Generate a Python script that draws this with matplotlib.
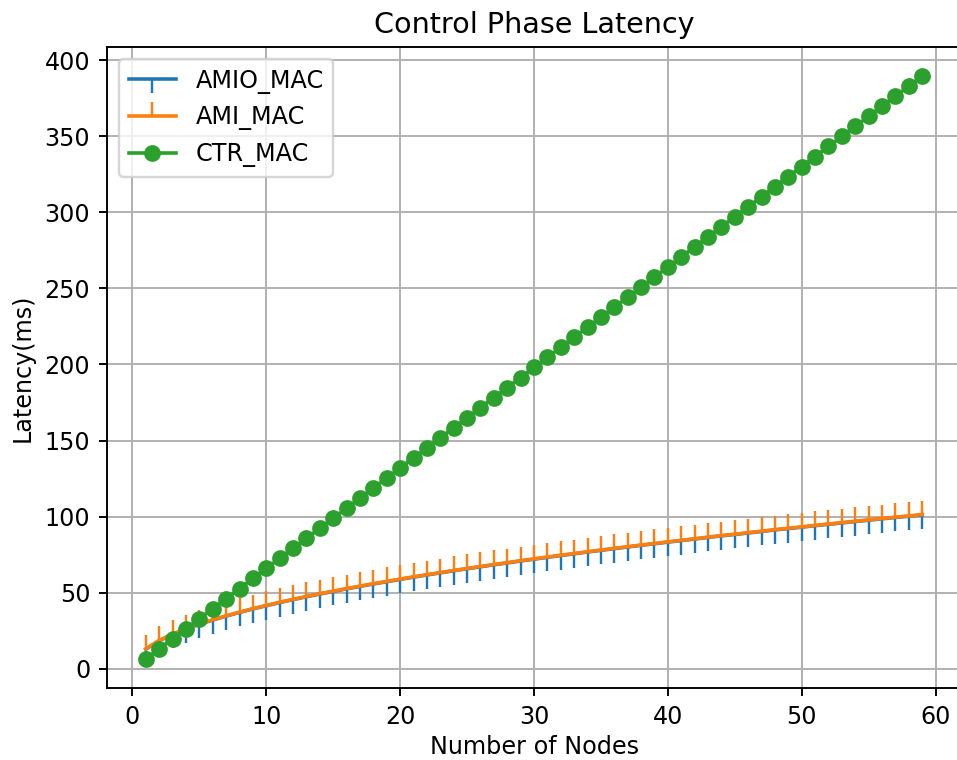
import matplotlib
matplotlib.use("Agg")
import matplotlib.pyplot as plt

nodes = list(range(1, 60))

ctr_mac = [6.6, 13.2, 19.8, 26.4, 33.0, 39.6, 46.2, 52.8, 59.4, 66.0,
           72.6, 79.2, 85.8, 92.4, 99.0, 105.6, 112.2, 118.8, 125.4, 132.0,
           138.6, 145.2, 151.8, 158.4, 165.0, 171.6, 178.2, 184.8, 191.4, 198.0,
           204.6, 211.2, 217.8, 224.4, 231.0, 237.6, 244.2, 250.8, 257.4, 264.0,
           270.6, 277.2, 283.8, 290.4, 297.0, 303.6, 310.2, 316.8, 323.4, 330.0,
           336.6, 343.2, 349.8, 356.4, 363.0, 369.6, 376.2, 382.8, 389.4]

ami_mac = [13.2, 18.7, 22.9, 26.4, 29.5, 32.3, 34.9, 37.3, 39.6, 41.7,
           43.8, 45.7, 47.6, 49.4, 51.1, 52.8, 54.4, 56.0, 57.5, 59.0,
           60.5, 61.9, 63.3, 64.7, 66.0, 67.3, 68.6, 69.8, 71.1, 72.3,
           73.5, 74.7, 75.8, 77.0, 78.1, 79.2, 80.3, 81.4, 82.4, 83.5,
           84.5, 85.5, 86.6, 87.6, 88.5, 89.5, 90.5, 91.5, 92.4, 93.3,
           94.3, 95.2, 96.1, 97.0, 97.9, 98.8, 99.7, 100.5, 101.4]

amio_mac = [13.0, 18.5, 22.7, 26.2, 29.3, 32.1, 34.7, 37.1, 39.4, 41.5,
            43.6, 45.5, 47.4, 49.2, 50.9, 52.6, 54.2, 55.8, 57.3, 58.8,
            60.3, 61.7, 63.1, 64.5, 65.8, 67.1, 68.4, 69.6, 70.9, 72.1,
            73.3, 74.5, 75.6, 76.8, 77.9, 79.0, 80.1, 81.2, 82.2, 83.3,
            84.3, 85.3, 86.4, 87.4, 88.3, 89.3, 90.3, 91.3, 92.2, 93.1,
            94.1, 95.0, 95.9, 96.8, 97.7, 98.6, 99.5, 100.3, 101.2]

DPI = 172
fig = plt.figure(figsize=(957/DPI, 760/DPI), dpi=DPI)
ax = fig.add_axes([107/957, 72/760, 854/957, 641/760])

ax.plot(nodes, amio_mac, marker=3, color="#1f77b4", label="AMIO_MAC")
ax.plot(nodes, ami_mac, marker=2, color="#ff7f0e", label="AMI_MAC")
ax.plot(nodes, ctr_mac, marker="o", color="#2ca02c", label="CTR_MAC")

ax.set_title("Control Phase Latency")
ax.set_xlabel("Number of Nodes", labelpad=2.5)
ax.set_ylabel("Latency(ms)")
ax.grid(True)
ax.legend(loc="upper left")

fig.savefig("out.png", dpi=DPI)
